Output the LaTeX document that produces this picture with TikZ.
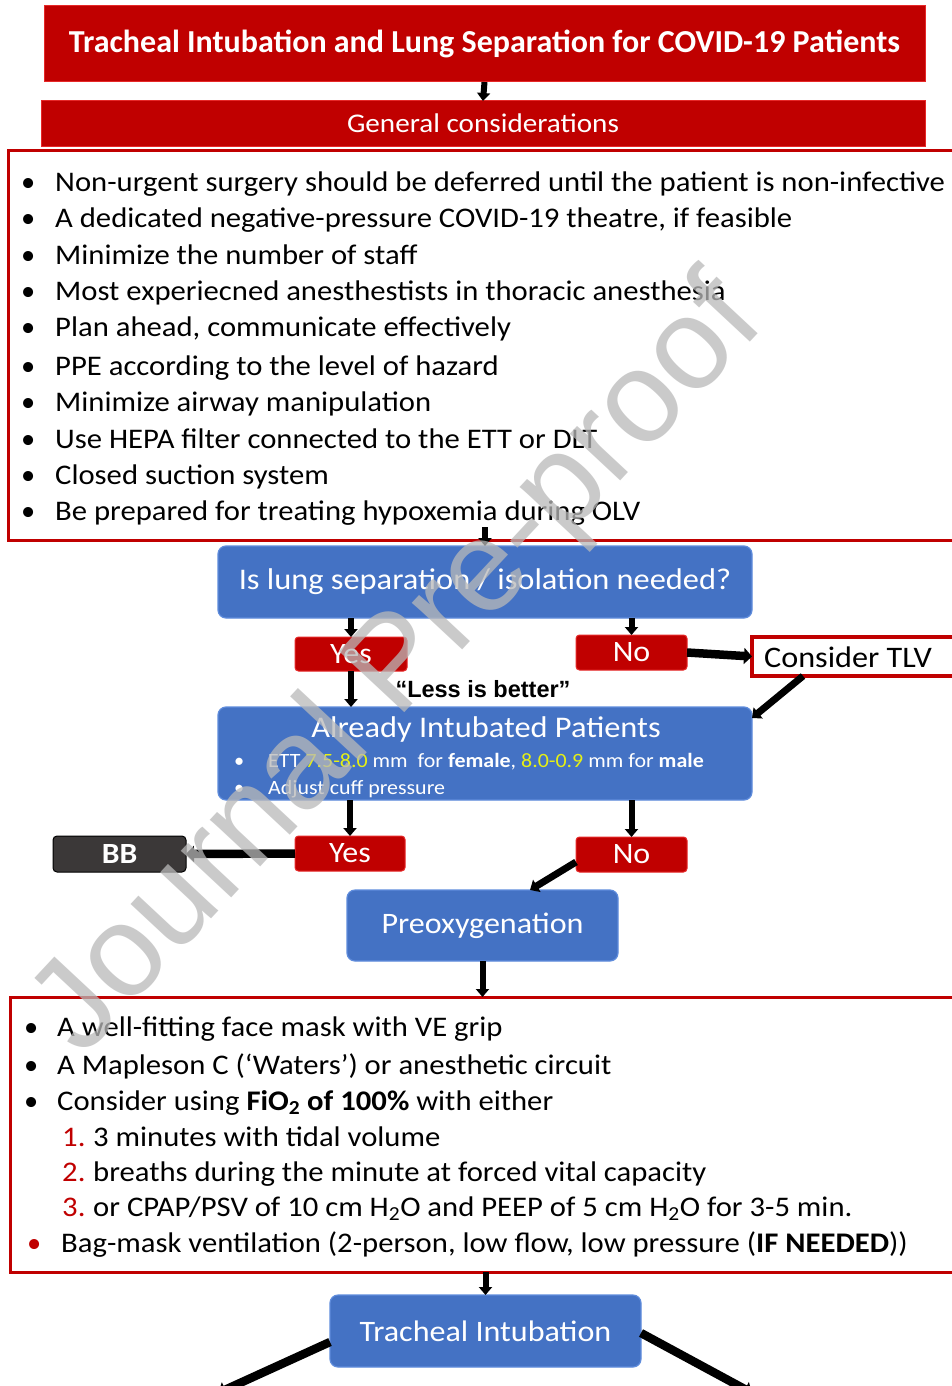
\documentclass[tikz,border=0pt]{standalone}
\usepackage{graphicx}
\usepackage{fontspec}
\setmainfont{Carlito}
\newfontfamily\arialf{Liberation Sans}
\usetikzlibrary{arrows.meta,calc}
\definecolor{cred}{RGB}{192,0,0}
\definecolor{credb}{RGB}{230,40,40}
\definecolor{cblue}{RGB}{68,114,196}
\definecolor{cblueb}{RGB}{95,140,220}
\definecolor{cdark}{RGB}{59,56,56}
\definecolor{cyel}{RGB}{230,240,20}
\definecolor{wm}{RGB}{185,185,185}
\newcommand{\fsz}[1]{\fontsize{#1}{#1}\selectfont}
\newcommand{\sx}[1]{\scalebox{1.08}[1]{#1}}
\tikzset{
 redbox/.style={fill=cred, draw=credb, line width=1pt, text=white, inner sep=0pt, outer sep=0pt, rounded corners=3.5pt},
 titlebox/.style={fill=cred, draw=credb, line width=1pt, text=white, inner sep=0pt, outer sep=0pt},
 bluebox/.style={fill=cblue, draw=cblueb, line width=1.2pt, text=white, rounded corners=8pt, inner sep=0pt, outer sep=0pt},
 darkbox/.style={fill=cdark, draw=black, line width=1pt, text=white, rounded corners=4pt, inner sep=0pt, outer sep=0pt},
 listbox/.style={draw=cred, line width=3pt, fill=white, inner sep=0pt, outer sep=0pt},
 tlvbox/.style={draw=cred, line width=4pt, fill=white, inner sep=0pt, outer sep=0pt},
 arr/.style={line width=6pt, -{Triangle[length=8pt,width=13pt]}},
 bigarr/.style={line width=8.5pt, -{Triangle[length=8pt,width=16pt]}},
 diagarr/.style={line width=7pt, -{Triangle[length=8pt,width=14pt]}},
 itm/.style={anchor=base west, inner sep=0pt, font=\fsz{28.4}},
 txt/.style={inner sep=0pt},
}
\newcommand{\bul}[1]{\makebox[#1][l]{•}}
\begin{document}
\begin{tikzpicture}[x=1pt,y=-1pt]
\useasboundingbox (0,0) rectangle (952,1386);
\fill[white] (0,0) rectangle (952,1386);

% title
\node[titlebox, minimum width=881pt, minimum height=76pt, font=\bfseries\fsz{32}] (title) at (484.5,44) {Tracheal Intubation and Lung Separation for COVID-19 Patients};
\node[titlebox, minimum width=884pt, minimum height=45pt, font=\fsz{27}] (gen) at (483,123.5) {\sx{General considerations}};
\draw[arr] (title.south) -- (gen.north);

% general list
\node[listbox, minimum width=957pt, minimum height=390pt] (list1) at (486.5,345) {};
\node[itm] (g1) at (21,191) {\bul{34pt}\sx{Non-urgent surgery should be deferred until the patient is non-infective}};
\node[itm] (g2) at (21,227) {\bul{34pt}\sx{A dedicated negative-pressure COVID-19 theatre, if feasible}};
\node[itm] (g3) at (21,264) {\bul{34pt}\sx{Minimize the number of staff}};
\node[itm] (g4) at (21,300) {\bul{34pt}\sx{Most experiecned anesthestists in thoracic anesthesia}};
\node[itm] (g5) at (21,336) {\bul{34pt}\sx{Plan ahead, communicate effectively}};
\node[itm] (g6) at (21,375) {\bul{34pt}\sx{PPE according to the level of hazard}};
\node[itm] (g7) at (21,411) {\bul{34pt}\sx{Minimize airway manipulation}};
\node[itm] (g8) at (21,448) {\bul{34pt}\sx{Use HEPA filter connected to the ETT or DLT}};
\node[itm] (g9) at (21,484) {\bul{34pt}\sx{Closed suction system}};
\node[itm] (g10) at (21,520) {\bul{34pt}\sx{Be prepared for treating hypoxemia during OLV}};

% question
\node[bluebox, minimum width=534pt, minimum height=72pt, font=\fsz{30}] (q) at (485,582) {\sx{Is lung separation / isolation needed?}};
\draw[arr] ($(q.north)+(0,-19)$) -- (q.north);

\node[redbox, minimum width=112pt, minimum height=34pt, font=\fsz{29.6}] (yes1) at (351,654) {\sx{Yes}};
\node[redbox, minimum width=111pt, minimum height=35pt, font=\fsz{29.6}] (no1) at (631.5,652.5) {\sx{No}};
\draw[arr] (q.south -| yes1.north) -- (yes1.north);
\draw[arr] (q.south -| no1.north) -- (no1.north);

\node[tlvbox, minimum width=218pt, minimum height=39pt] (tlv) at (861,656.5) {};
\node[txt, anchor=west, font=\fsz{29.8}] (tlvt) at (764,657) {\sx{Consider TLV}};
\draw[bigarr] (no1.east) -- (tlv.west);

\node[txt, font=\arialf\bfseries\fsz{23.5}] (less) at (483,689) {“Less is better”};

% already intubated
\node[bluebox, minimum width=534pt, minimum height=93pt] (ai) at (485,753.5) {};
\node[txt, text=white, font=\fsz{30}] (ait) at (486,729) {\sx{Already Intubated Patients}};
\node[txt, text=white, anchor=base west, font=\fsz{20.3}] (ai1) at (234,767) {\bul{34pt}\sx{ETT \textcolor{cyel}{7.5-8.0} mm\ \ for \textbf{female}, \textcolor{cyel}{8.0-0.9} mm for \textbf{male}}};
\node[txt, text=white, anchor=base west, font=\fsz{20.3}] (ai2) at (234,794) {\bul{34pt}\sx{Adjust cuff pressure}};
\draw[arr] (yes1.south) -- (yes1.south |- ai.north);
\draw[diagarr] ($(tlv.south west)+(51,0)$) -- ($(ai.north east)+(0,11)$);

\node[redbox, minimum width=110pt, minimum height=35pt, font=\fsz{29.6}] (yes2) at (350,853.5) {\sx{Yes}};
\node[redbox, minimum width=111pt, minimum height=35pt, font=\fsz{29.6}] (no2) at (631.5,854.5) {\sx{No}};
\draw[arr] (ai.south -| yes2.north) -- (yes2.north);
\draw[arr] (ai.south -| no2.north) -- (no2.north);

\node[darkbox, minimum width=133pt, minimum height=36pt, font=\bfseries\fsz{29.3}] (bb) at (119.5,854) {\sx{BB}};
\draw[bigarr] (yes2.west) -- (bb.east);

\node[bluebox, minimum width=271pt, minimum height=71pt, font=\fsz{29.7}] (preox) at (482.5,925.5) {\sx{Preoxygenation}};
\draw[diagarr] ($(no2.south west)+(0,-10)$) -- ($(preox.north west)+(183,0)$);

% preoxygenation list
\node[listbox, minimum width=955pt, minimum height=275pt] (list2) at (487.5,1134.5) {};
\draw[arr] (preox.south) -- (list2.north -| preox.south);
\node[itm] (p1) at (24,1036) {\bul{33pt}\sx{A well-fitting face mask with VE grip}};
\node[itm] (p2) at (24,1074) {\bul{33pt}\sx{A Mapleson C (‘Waters’) or anesthetic circuit}};
\node[itm] (p3) at (24,1110) {\bul{33pt}\sx{Consider using \textbf{FiO\textsubscript{2} of 100\%} with either}};
\node[itm] (p4) at (62,1146) {\makebox[31pt][l]{\sx{\textcolor{cred}{1.}}}\sx{3 minutes with tidal volume}};
\node[itm] (p5) at (62,1181) {\makebox[31pt][l]{\sx{\textcolor{cred}{2.}}}\sx{breaths during the minute at forced vital capacity}};
\node[itm] (p6) at (62,1216) {\makebox[31pt][l]{\sx{\textcolor{cred}{3.}}}\sx{or CPAP/PSV of 10 cm H\textsubscript{2}O and PEEP of 5 cm H\textsubscript{2}O for 3-5 min.}};
\node[itm] (p7) at (27,1252) {\makebox[34pt][l]{\textcolor{cred}{•}}\sx{Bag-mask ventilation (2-person, low flow, low pressure (\textbf{IF NEEDED}))}};

% tracheal intubation
\node[bluebox, minimum width=311pt, minimum height=72pt, font=\fsz{29.7}] (ti) at (485.5,1331) {\sx{Tracheal Intubation}};
\draw[arr] (list2.south -| ti.north) -- (ti.north);
\coordinate (tl) at (218,1393);
\coordinate (tr) at (752,1393);
\draw[bigarr] ($(ti.west)+(0,11)$) -- (tl);
\draw[bigarr] ($(ti.east)+(0,2)$) -- (tr);

% watermark
\node[txt, text=wm, opacity=0.75, rotate=47, font=\arialf\fsz{130}] (wmk) at (400,668) {Journal Pre-proof};
\end{tikzpicture}
\end{document}
